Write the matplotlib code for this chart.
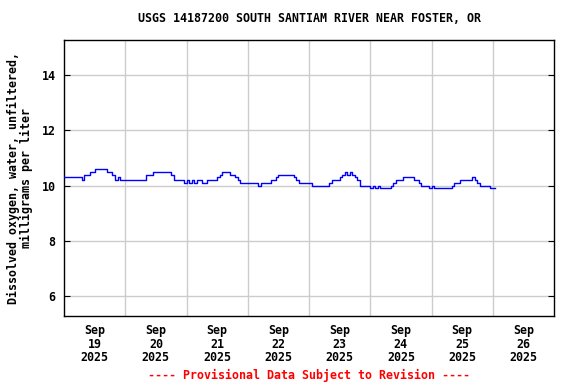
import matplotlib
matplotlib.use("Agg")
import matplotlib.pyplot as plt
import matplotlib.dates as mdates
import numpy as np
import pandas as pd

title = "USGS 14187200 SOUTH SANTIAM RIVER NEAR FOSTER, OR"
ylabel = "Dissolved oxygen, water, unfiltered,\nmilligrams per liter"
footer = "---- Provisional Data Subject to Revision ----"

start_time = "2025-09-19 00:00"

# Hourly dissolved oxygen values (mg/L)
day_sep19 = [10.3, 10.3, 10.3, 10.3, 10.3, 10.3, 10.3, 10.2, 10.4, 10.4, 10.5, 10.5,
             10.6, 10.6, 10.6, 10.6, 10.6, 10.5, 10.5, 10.4, 10.2, 10.3, 10.2, 10.2]
day_sep20 = [10.2, 10.2, 10.2, 10.2, 10.2, 10.2, 10.2, 10.2, 10.4, 10.4, 10.4, 10.5,
             10.5, 10.5, 10.5, 10.5, 10.5, 10.5, 10.4, 10.2, 10.2, 10.2, 10.2, 10.1]
day_sep21 = [10.2, 10.1, 10.2, 10.1, 10.2, 10.2, 10.1, 10.1, 10.2, 10.2, 10.2, 10.2,
             10.3, 10.4, 10.5, 10.5, 10.5, 10.4, 10.4, 10.3, 10.2, 10.1, 10.1, 10.1]
day_sep22 = [10.1, 10.1, 10.1, 10.1, 10.0, 10.1, 10.1, 10.1, 10.1, 10.2, 10.2, 10.3,
             10.4, 10.4, 10.4, 10.4, 10.4, 10.4, 10.3, 10.2, 10.1, 10.1, 10.1, 10.1]
day_sep23 = [10.1, 10.0, 10.0, 10.0, 10.0, 10.0, 10.0, 10.0, 10.1, 10.2, 10.2, 10.2,
             10.3, 10.4, 10.5, 10.4, 10.5, 10.4, 10.3, 10.2, 10.0, 10.0, 10.0, 10.0]
day_sep24 = [9.9, 10.0, 9.9, 10.0, 9.9, 9.9, 9.9, 9.9, 10.0, 10.1, 10.2, 10.2,
             10.2, 10.3, 10.3, 10.3, 10.3, 10.2, 10.2, 10.1, 10.0, 10.0, 10.0, 9.9]
day_sep25 = [10.0, 9.9, 9.9, 9.9, 9.9, 9.9, 9.9, 9.9, 10.0, 10.1, 10.1, 10.2,
             10.2, 10.2, 10.2, 10.2, 10.3, 10.2, 10.1, 10.0, 10.0, 10.0, 10.0, 9.9]
day_sep26 = [9.9, 9.9]

values = day_sep19 + day_sep20 + day_sep21 + day_sep22 + day_sep23 + day_sep24 + day_sep25 + day_sep26
times = pd.date_range(start_time, periods=len(values), freq="h")

x_start = "2025-09-19"
x_end = "2025-09-27"
y_min, y_max = 5.28, 15.27
y_ticks = [6, 8, 10, 12, 14]
label_days = pd.date_range("2025-09-19 12:00", periods=8, freq="D")
tick_labels = [f"Sep\n{d.day}\n{d.year}" for d in label_days]
grid_days = pd.date_range("2025-09-20", periods=7, freq="D")

font = "DejaVu Sans Mono"
fs = 8.4

fig = plt.figure(figsize=(5.76, 3.84), dpi=100)
ax = fig.add_axes([64/576, 1-316/384, 490/576, 276/384])

for v in y_ticks:
    ax.axhline(v, color="#cccccc", lw=1, zorder=0)
for d in grid_days:
    ax.axvline(d, color="#cccccc", lw=1, zorder=0)

ax.plot(times, values, color="#0000ff", lw=1, drawstyle="steps-post", zorder=3)

ax.set_xlim(pd.Timestamp(x_start), pd.Timestamp(x_end))
ax.set_ylim(y_min, y_max)
ax.set_yticks(y_ticks)
ax.set_yticklabels([str(v) for v in y_ticks], fontfamily=font, fontweight="bold", fontsize=fs)
ax.set_xticks(label_days)
ax.set_xticklabels(tick_labels, fontfamily=font, fontweight="bold", fontsize=fs, linespacing=1.05)
ax.tick_params(axis="y", direction="in", length=4, width=0.8, pad=6, right=True)
ax.tick_params(axis="x", direction="in", length=0, pad=6)

for s in ax.spines.values():
    s.set_linewidth(1)
    s.set_color("black")

ax.set_ylabel(ylabel, fontfamily=font, fontweight="bold", fontsize=fs, labelpad=6, linespacing=1.0)
fig.text(309/576, 1-19/384, title, ha="center", va="center", fontfamily=font, fontweight="bold", fontsize=fs)
fig.text(309/576, 1-375/384, footer, ha="center", va="center", fontfamily=font, fontweight="bold", fontsize=fs, color="#ff0000")

fig.savefig("out.png", dpi=100)
